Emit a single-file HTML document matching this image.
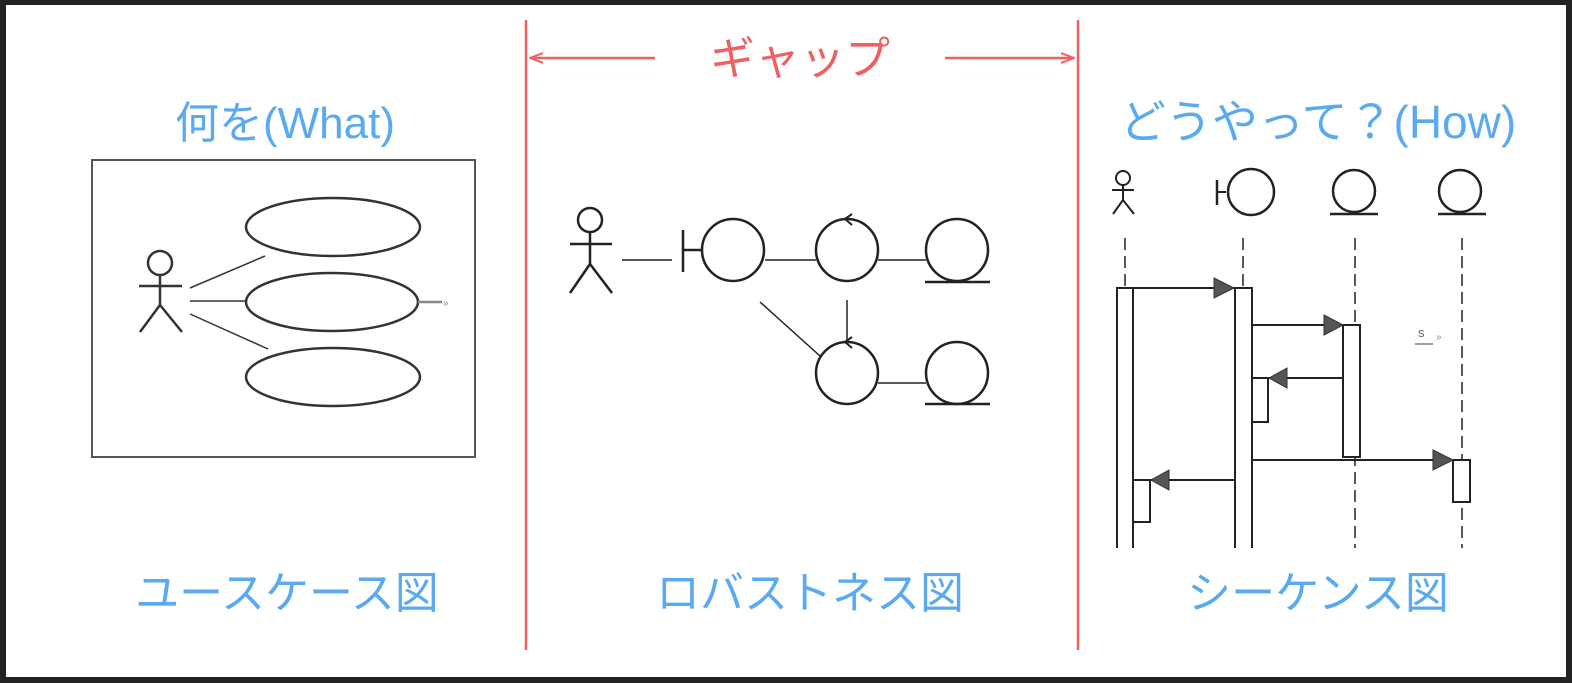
<!DOCTYPE html>
<html><head><meta charset="utf-8"><style>
html,body{margin:0;padding:0;background:#222;}
svg{display:block}
text{font-family:"Liberation Sans","Noto Sans CJK JP",sans-serif;}
</style></head><body>
<svg width="1572" height="683" viewBox="0 0 1572 683" xmlns="http://www.w3.org/2000/svg">
<defs>
<marker id="ra" markerWidth="14" markerHeight="12" refX="13" refY="6" orient="auto" markerUnits="userSpaceOnUse"><path d="M0,1 L13,6 L0,11" fill="none" stroke="#f06060" stroke-width="2"/></marker>
</defs>
<rect x="6" y="5" width="1560" height="672" fill="#fff"/>
<g stroke="#f06060" stroke-width="2.5" fill="none">
<line x1="526" y1="20" x2="526" y2="650"/>
<line x1="1078" y1="20" x2="1078" y2="650"/>
<line x1="655" y1="58" x2="530" y2="58" marker-end="url(#ra)"/>
<line x1="945" y1="58" x2="1074" y2="58" marker-end="url(#ra)"/>
</g>
<text x="800" y="74" font-size="45" fill="#f06060" text-anchor="middle">ギャップ</text>
<g fill="#5aaaf2" font-size="44" text-anchor="middle">
<text x="285" y="138">何を(What)</text>
<text x="1318" y="138" font-size="46">どうやって？(How)</text>
<text x="287" y="608">ユースケース図</text>
<text x="810" y="608">ロバストネス図</text>
<text x="1318" y="608">シーケンス図</text>
</g>
<g stroke="#333" stroke-width="2.5" fill="none">
<rect x="92" y="160" width="383" height="297" stroke="#555" stroke-width="2"/>
<ellipse cx="333" cy="227" rx="87" ry="29" fill="#fff"/>
<ellipse cx="332" cy="302" rx="86" ry="29" fill="#fff"/>
<ellipse cx="333" cy="377" rx="87" ry="29" fill="#fff"/>
<circle cx="160" cy="263" r="12"/>
<line x1="160" y1="275" x2="160" y2="305"/><line x1="139" y1="286" x2="182" y2="286"/>
<line x1="160" y1="305" x2="140" y2="332"/><line x1="160" y1="305" x2="182" y2="332"/>
<line x1="190" y1="288" x2="265" y2="256" stroke-width="1.5"/>
<line x1="190" y1="301" x2="246" y2="301" stroke-width="1.5"/>
<line x1="190" y1="314" x2="268" y2="349" stroke-width="1.5"/>
<line x1="418" y1="302" x2="442" y2="302" stroke="#888"/>
</g>
<text x="443" y="306" font-size="10" fill="#888">»</text>
<g stroke="#222" stroke-width="2.5" fill="none">
<circle cx="590" cy="220" r="12"/>
<line x1="590" y1="232" x2="590" y2="264"/><line x1="570" y1="244" x2="612" y2="244"/>
<line x1="590" y1="264" x2="570" y2="293"/><line x1="590" y1="264" x2="612" y2="293"/>
<line x1="622" y1="260" x2="672" y2="260" stroke-width="1.5"/>
<line x1="683" y1="230" x2="683" y2="272"/><line x1="683" y1="250" x2="702" y2="250"/>
<circle cx="733" cy="250" r="31" fill="#fff"/>
<line x1="765" y1="260" x2="816" y2="260" stroke-width="1.5"/>
<circle cx="847" cy="250" r="31" fill="#fff"/>
<path d="M852,214 L845,219 L852,225" stroke-width="2"/>
<line x1="878" y1="260" x2="926" y2="260" stroke-width="1.5"/>
<circle cx="957" cy="250" r="31" fill="#fff"/>
<line x1="925" y1="282" x2="990" y2="282"/>
<line x1="760" y1="302" x2="820" y2="356" stroke-width="1.5"/>
<line x1="847" y1="300" x2="847" y2="342" stroke-width="1.5"/>
<circle cx="847" cy="373" r="31" fill="#fff"/>
<path d="M852,337 L845,342 L852,348" stroke-width="2"/>
<line x1="878" y1="383" x2="926" y2="383" stroke-width="1.5"/>
<circle cx="957" cy="373" r="31" fill="#fff"/>
<line x1="925" y1="404" x2="990" y2="404"/>
</g>
<g stroke="#222" stroke-width="2" fill="none">
<circle cx="1123" cy="178" r="7"/>
<line x1="1123" y1="185" x2="1123" y2="200"/><line x1="1112" y1="190" x2="1134" y2="190"/>
<line x1="1123" y1="200" x2="1113" y2="214"/><line x1="1123" y1="200" x2="1134" y2="214"/>
<line x1="1217" y1="180" x2="1217" y2="205" stroke-width="2.5"/><line x1="1217" y1="192" x2="1226" y2="192"/>
<circle cx="1251" cy="192" r="23" stroke-width="2.5"/>
<circle cx="1354" cy="191" r="21" stroke-width="2.5"/>
<line x1="1330" y1="214" x2="1378" y2="214" stroke-width="2.5"/>
<circle cx="1460" cy="191" r="21" stroke-width="2.5"/>
<line x1="1438" y1="214" x2="1486" y2="214" stroke-width="2.5"/>
<g stroke-dasharray="12,6" stroke-width="1.5">
<line x1="1125" y1="238" x2="1125" y2="286"/>
<line x1="1243" y1="238" x2="1243" y2="286"/>
<line x1="1355" y1="238" x2="1355" y2="548"/>
<line x1="1462" y1="238" x2="1462" y2="548"/>
</g>
<g stroke-width="2">
<polyline points="1117,548 1117,288 1133,288 1133,548"/>
<polyline points="1235,548 1235,288 1252,288 1252,548"/>
<line x1="1133" y1="288" x2="1235" y2="288"/>
<line x1="1252" y1="325" x2="1343" y2="325"/>
<rect x="1343" y="325" width="17" height="132" fill="#fff"/>
<line x1="1268" y1="378" x2="1343" y2="378"/>
<polyline points="1252,378 1268,378 1268,422 1252,422"/>
<line x1="1252" y1="460" x2="1453" y2="460"/>
<rect x="1453" y="460" width="17" height="42" fill="#fff"/>
<line x1="1150" y1="480" x2="1235" y2="480"/>
<polyline points="1133,480 1150,480 1150,522 1133,522"/>
</g>
</g>
<g fill="#555" stroke="#333" stroke-width="1">
<polygon points="1214,278 1234,288 1214,298"/>
<polygon points="1324,315 1343,325 1324,335"/>
<polygon points="1287,368 1269,378 1287,388"/>
<polygon points="1433,450 1453,460 1433,470"/>
<polygon points="1169,470 1151,480 1169,490"/>
</g>
<text x="1418" y="337" font-size="13" fill="#666" font-family="Liberation Serif">s</text>
<line x1="1415" y1="344" x2="1433" y2="344" stroke="#666" stroke-width="1.2"/>
<text x="1436" y="340" font-size="10" fill="#888">»</text>
</svg>
</body></html>
